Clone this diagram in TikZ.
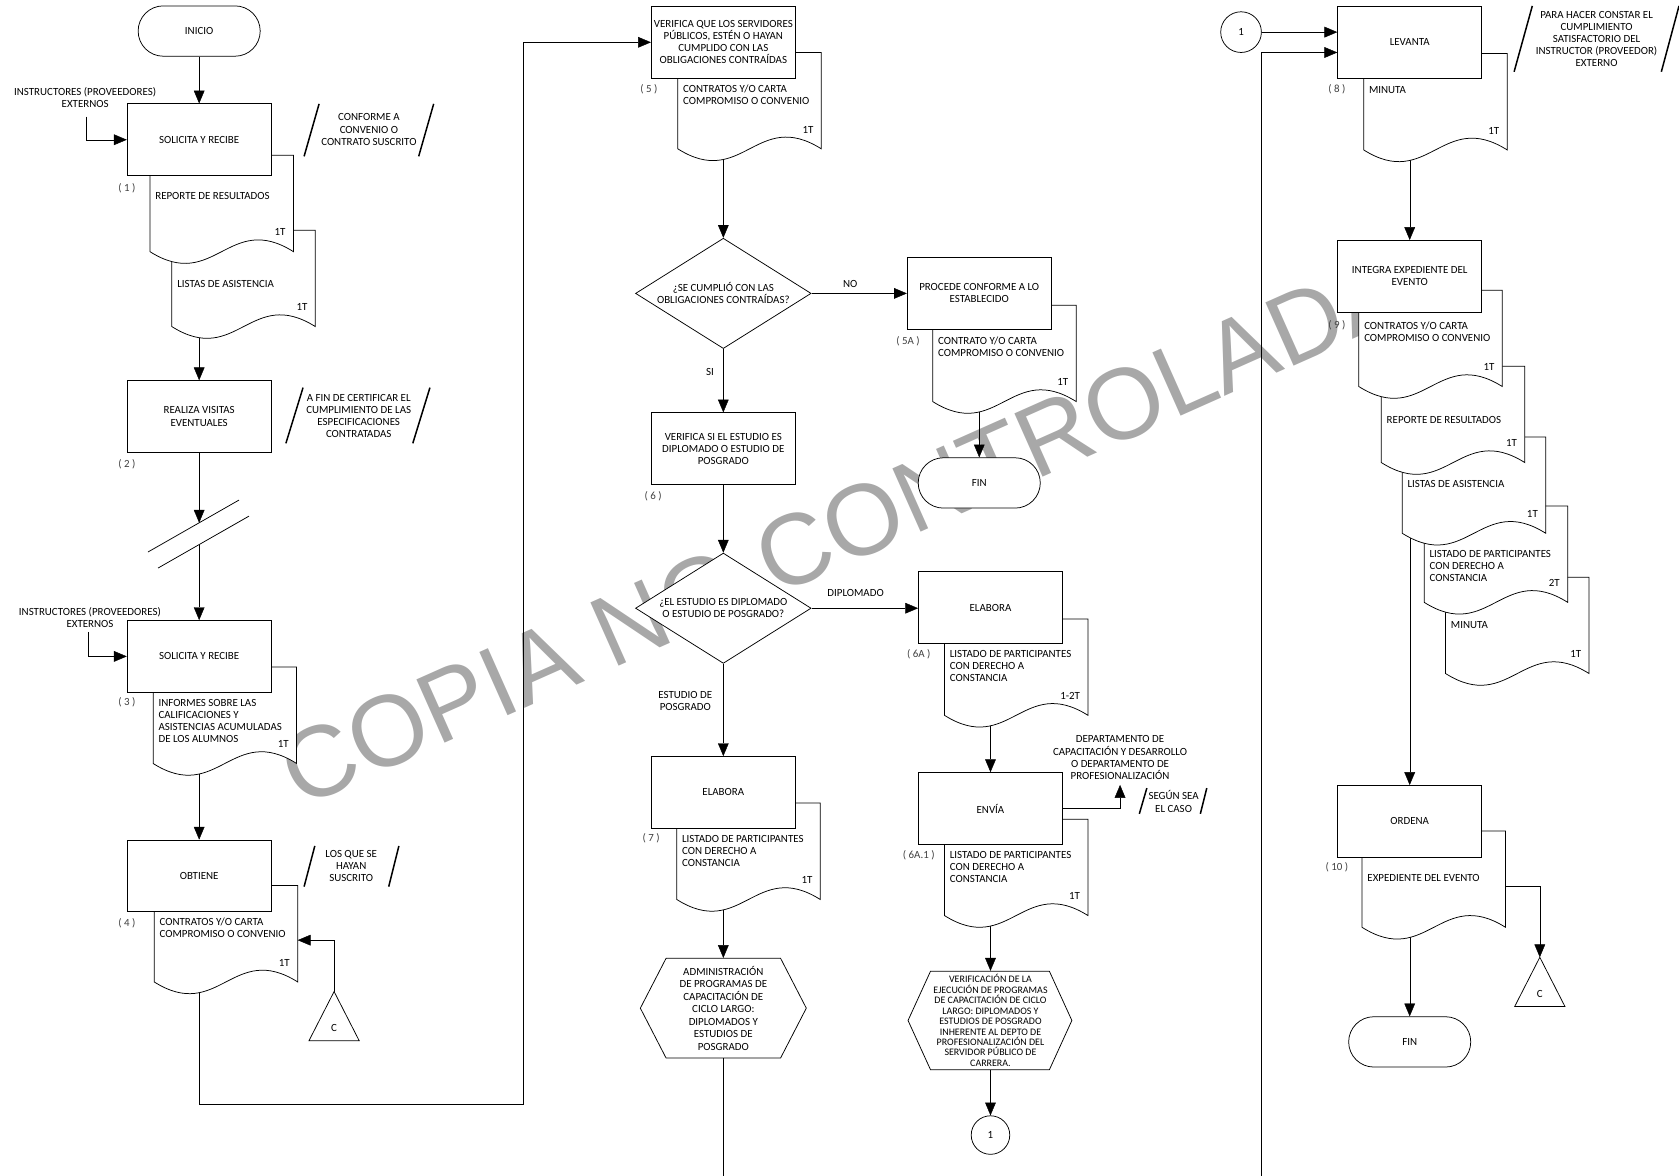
\documentclass[tikz,border=0pt]{standalone}
\usepackage{fontspec}
\setmainfont{Carlito}
\newfontfamily\wmfont{Liberation Sans}
\usetikzlibrary{arrows.meta,shapes.geometric,backgrounds}
\definecolor{wmgray}{RGB}{168,168,168}

\newcommand{\docu}[6]{%
  \draw[fill=white] (#2,#3) -- (#2+134,#3) -- (#2+134,#3+90)
    .. controls (#2+73.7,#3+52) and (#2+60.3,#3+128) .. (#2,#3+90) -- cycle;
  \node[doctxt,anchor=north west] (#1t) at (#2+4.7,#3+#4-3.4) {#5};
  \node[doctxt,anchor=east] (#1c) at (#2+127,#3+72) {#6};
}

\begin{document}
\begin{tikzpicture}[x=1pt,y=-1pt,line width=0.7pt,>={Triangle[length=12pt,width=10pt]},
  every node/.style={font=\fontsize{10.2}{11.3}\selectfont},
  proc/.style={draw,fill=white,minimum width=134.5pt,minimum height=67pt,inner sep=1pt,align=center},
  term/.style={draw,fill=white,rounded corners=23.5pt,minimum width=114pt,minimum height=47pt,inner sep=0pt},
  dec/.style={diamond,draw,fill=white,aspect=1.6,minimum width=164pt,minimum height=103pt,inner sep=0pt,align=center},
  hexa/.style={minimum width=155pt,minimum height=93pt,inner sep=0pt,align=center},
  conn/.style={circle,draw,fill=white,minimum size=38pt,inner sep=0pt},
  doctxt/.style={inner sep=0pt,align=left},
  note/.style={inner sep=0pt,align=center},
  steplbl/.style={inner sep=0pt,text=black!75},
  slash/.style={line width=1.4pt},
  wm/.style={font=\wmfont\fontsize{94}{94}\selectfont,text=wmgray,rotate=24,anchor=base west,inner sep=0pt}]
\useasboundingbox (0,0) rectangle (1568,1098);

% columna 1
\node[term] (inicio) at (186,29) {INICIO};
\docu{d2}{160.5}{215}{50}{LISTAS DE ASISTENCIA}{1T}
\docu{d1}{140}{145}{38}{REPORTE DE RESULTADOS}{1T}
\node[proc] (sol1) at (186,130.5) {SOLICITA Y RECIBE};
\node[steplbl] (s1) at (118.5,175.5) {( 1 )};
\node[note] (prov1) at (79.5,91) {INSTRUCTORES (PROVEEDORES)\\EXTERNOS};
\coordinate (prov1in) at (80.3,109);
\draw[slash] (298,97) -- (284,146);
\draw[slash] (405,97) -- (391,146);
\node[note] (n1) at (344.5,121) {CONFORME A\\CONVENIO O\\CONTRATO SUSCRITO};

\node[proc] (realiza) at (186,389) {REALIZA VISITAS\\EVENTUALES};
\node[steplbl] (s2) at (118.5,434) {( 2 )};
\draw[slash] (283,362) -- (267,414);
\draw[slash] (401.5,362) -- (385.5,414);
\node[note] (n2) at (335,388.5) {A FIN DE CERTIFICAR EL\\CUMPLIMIENTO DE LAS\\ESPECIFICACIONES\\CONTRATADAS};

\draw (138.2,515.5) -- (223.2,467);
\draw (147.6,530.5) -- (232.5,482);
\coordinate (brk1) at (186,488.2);
\coordinate (brk2) at (186,508.6);

\docu{d3}{143}{623}{33}{INFORMES SOBRE LAS\\CALIFICACIONES Y\\ASISTENCIAS ACUMULADAS\\DE LOS ALUMNOS}{1T}
\node[proc] (sol2) at (186,613) {SOLICITA Y RECIBE};
\node[steplbl] (s3) at (118.5,656) {( 3 )};
\node[note] (prov2) at (84,577) {INSTRUCTORES (PROVEEDORES)\\EXTERNOS};
\coordinate (prov2in) at (82,590);

\docu{d4}{144}{827}{33}{CONTRATOS Y/O CARTA\\COMPROMISO O CONVENIO}{1T}
\node[proc] (obtiene) at (186,818) {OBTIENE};
\node[steplbl] (s4) at (118.5,862) {( 4 )};
\draw[slash] (294,790) -- (284,828);
\draw[slash] (372.5,790) -- (363,828);
\node[note] (n3) at (328,809) {LOS QUE SE\\HAYAN\\SUSCRITO};
\coordinate (d4r) at (278,878);
\coordinate (cAtop) at (312,926);
\draw[fill=white] (cAtop) -- (335.5,972) -- (288.5,972) -- cycle;
\node (cA) at (312,960) {C};
\coordinate (lowturn) at (489,1031);

% columna 2
\docu{d5}{633}{49}{33}{CONTRATOS Y/O CARTA\\COMPROMISO O CONVENIO}{1T}
\node[proc] (verif) at (675.5,39.5) {VERIFICA QUE LOS SERVIDORES\\PÚBLICOS, ESTÉN O HAYAN\\CUMPLIDO CON LAS\\OBLIGACIONES CONTRAÍDAS};
\node[steplbl] (s5) at (606,83) {( 5 )};
\node[dec] (dec1) at (675.5,274) {¿SE CUMPLIÓ CON LAS\\OBLIGACIONES CONTRAÍDAS?};
\node (lblno) at (794,265) {NO};
\node (lblsi) at (663,347) {SI};
\node[proc] (versi) at (675.5,419) {VERIFICA SI EL ESTUDIO ES\\DIPLOMADO O ESTUDIO DE\\POSGRADO};
\node[steplbl] (s6) at (610,463) {( 6 )};
\node[dec] (dec2) at (675.5,568) {¿EL ESTUDIO ES DIPLOMADO\\O ESTUDIO DE POSGRADO?};
\node (lbldip) at (799,554) {DIPLOMADO};
\node[note] (lblpos) at (640,655) {ESTUDIO DE\\POSGRADO};
\docu{d7}{632}{750}{33}{LISTADO DE PARTICIPANTES\\CON DERECHO A\\CONSTANCIA}{1T}
\node[proc] (elab7) at (675.5,740) {ELABORA};
\node[steplbl] (s7) at (608,783) {( 7 )};
\draw[fill=white] (622,895) -- (729,895) -- (753,941.5) -- (729,988) -- (622,988) -- (598,941.5) -- cycle;
\node[hexa,font=\fontsize{10.2}{11.7}\selectfont] (hexa1) at (675.5,941.5) {ADMINISTRACIÓN\\DE PROGRAMAS DE\\CAPACITACIÓN DE\\CICLO LARGO:\\DIPLOMADOS Y\\ESTUDIOS DE\\POSGRADO};
\coordinate (midend) at (675.5,1098);

% columna 3
\docu{d5a}{871}{285}{33}{CONTRATO Y/O CARTA\\COMPROMISO O CONVENIO}{1T}
\node[proc] (procede) at (914.5,274) {PROCEDE CONFORME A LO\\ESTABLECIDO};
\node[steplbl] (s5a) at (848,318.5) {( 5A )};
\node[term] (fin1) at (914.5,451) {FIN};

\docu{d6a}{882}{578}{32}{LISTADO DE PARTICIPANTES\\CON DERECHO A\\CONSTANCIA}{1-2T}
\node[proc] (elab6a) at (925,567.5) {ELABORA};
\node[steplbl] (s6a) at (858,611) {( 6A )};
\docu{d6a1}{882}{765}{33}{LISTADO DE PARTICIPANTES\\CON DERECHO A\\CONSTANCIA}{1T}
\node[proc] (envia) at (925,755) {ENVÍA};
\node[steplbl] (s6a1) at (858,799) {( 6A.1 )};
\node[note] (dept) at (1046,707.5) {DEPARTAMENTO DE\\CAPACITACIÓN Y DESARROLLO\\O DEPARTAMENTO DE\\PROFESIONALIZACIÓN};
\coordinate (deptip) at (1046,733);
\draw[slash] (1071,736) -- (1064,760);
\draw[slash] (1127,736) -- (1121,760);
\node[note] (n4) at (1096,748.5) {SEGÚN SEA\\EL CASO};
\draw[fill=white] (869,907) -- (980,907) -- (1001,953) -- (980,999) -- (869,999) -- (848,953) -- cycle;
\node[hexa,minimum width=153pt,minimum height=92pt,font=\fontsize{9.3}{9.75}\selectfont] (hexa2) at (925,953) {VERIFICACIÓN DE LA\\EJECUCIÓN DE PROGRAMAS\\DE CAPACITACIÓN DE CICLO\\LARGO: DIPLOMADOS Y\\ESTUDIOS DE POSGRADO\\INHERENTE AL DEPTO DE\\PROFESIONALIZACIÓN DEL\\SERVIDOR PÚBLICO DE\\CARRERA.};
\node[conn,minimum size=36pt] (circ2) at (925,1060) {1};

% columna 4
\node[conn] (circ1) at (1159,30) {1};
\coordinate (rightend) at (1177.5,1098);
\docu{d8}{1273.5}{50}{33.5}{MINUTA}{1T}
\node[proc] (levanta) at (1316.5,39.5) {LEVANTA};
\node[steplbl] (s8) at (1248.5,83) {( 8 )};
\draw[slash] (1431,5.5) -- (1414,67);
\draw[slash] (1568,5.5) -- (1551.5,67);
\node[note] (n5) at (1491,36.5) {PARA HACER CONSTAR EL\\CUMPLIMIENTO\\SATISFACTORIO DEL\\INSTRUCTOR (PROVEEDOR)\\EXTERNO};

\docu{d9e}{1350}{539}{44}{MINUTA}{1T}
\docu{d9d}{1330}{472.5}{44.5}{LISTADO DE PARTICIPANTES\\CON DERECHO A\\CONSTANCIA}{2T}
\docu{d9c}{1309.5}{408}{44}{LISTAS DE ASISTENCIA}{1T}
\docu{d9b}{1290}{342}{50}{REPORTE DE RESULTADOS}{1T}
\docu{d9a}{1269}{271}{33}{CONTRATOS Y/O CARTA\\COMPROMISO O CONVENIO}{1T}
\node[proc] (integra) at (1316.5,258) {INTEGRA EXPEDIENTE DEL\\EVENTO};
\node[steplbl] (s9) at (1248.5,303.5) {( 9 )};

\docu{d10}{1272}{776}{44}{EXPEDIENTE DEL EVENTO}{}
\node[proc] (ordena) at (1316.5,767) {ORDENA};
\node[steplbl] (s10) at (1248.5,810) {( 10 )};
\coordinate (d10r) at (1406,827.5);
\coordinate (cBtop) at (1438,894);
\draw[fill=white] (cBtop) -- (1461.5,940) -- (1414.5,940) -- cycle;
\node (cB) at (1438,928) {C};
\node[term] (fin2) at (1316.5,973) {FIN};

\begin{scope}[on background layer]
  \node[wm] (wmark) at (280,755) {COPIA NO CONTROLADA};
  \draw[->] (inicio) -- (sol1);
  \draw[->] (prov1in) |- (sol1.west);
  \draw[->] (sol1) -- (realiza);
  \draw[->] (realiza) -- (brk1);
  \draw[->] (brk2) -- (sol2);
  \draw[->] (prov2in) |- (sol2.west);
  \draw[->] (sol2) -- (obtiene);
  \draw[->] (cAtop) |- (d4r);
  \draw[->] (obtiene.south) |- (lowturn) |- (verif.west);
  \draw[->] (verif) -- (dec1);
  \draw[->] (dec1) -- (procede);
  \draw[->] (procede) -- (fin1);
  \draw[->] (dec1) -- (versi);
  \draw[->] (versi) -- (dec2);
  \draw[->] (dec2.east) -- (dec2.east -| elab6a.west);
  \draw[->] (dec2) -- (elab7);
  \draw[->] (elab7) -- (hexa1);
  \draw (hexa1) -- (midend);
  \draw[->] (elab6a) -- (envia);
  \draw[->] (envia.east) -| (deptip);
  \draw[->] (envia.south) -- (hexa2.north);
  \draw[->] (hexa2.south) -- (circ2.north);
  \draw[->] (circ1) -- ([yshift=9.5pt]levanta.west);
  \draw[->] (rightend) |- ([yshift=-9.5pt]levanta.west);
  \draw[->] (levanta) -- (integra);
  \draw[->] (integra) -- (ordena);
  \draw[->] (ordena) -- (fin2);
  \draw[->] (d10r) -| (cBtop);
\end{scope}
\end{tikzpicture}
\end{document}
